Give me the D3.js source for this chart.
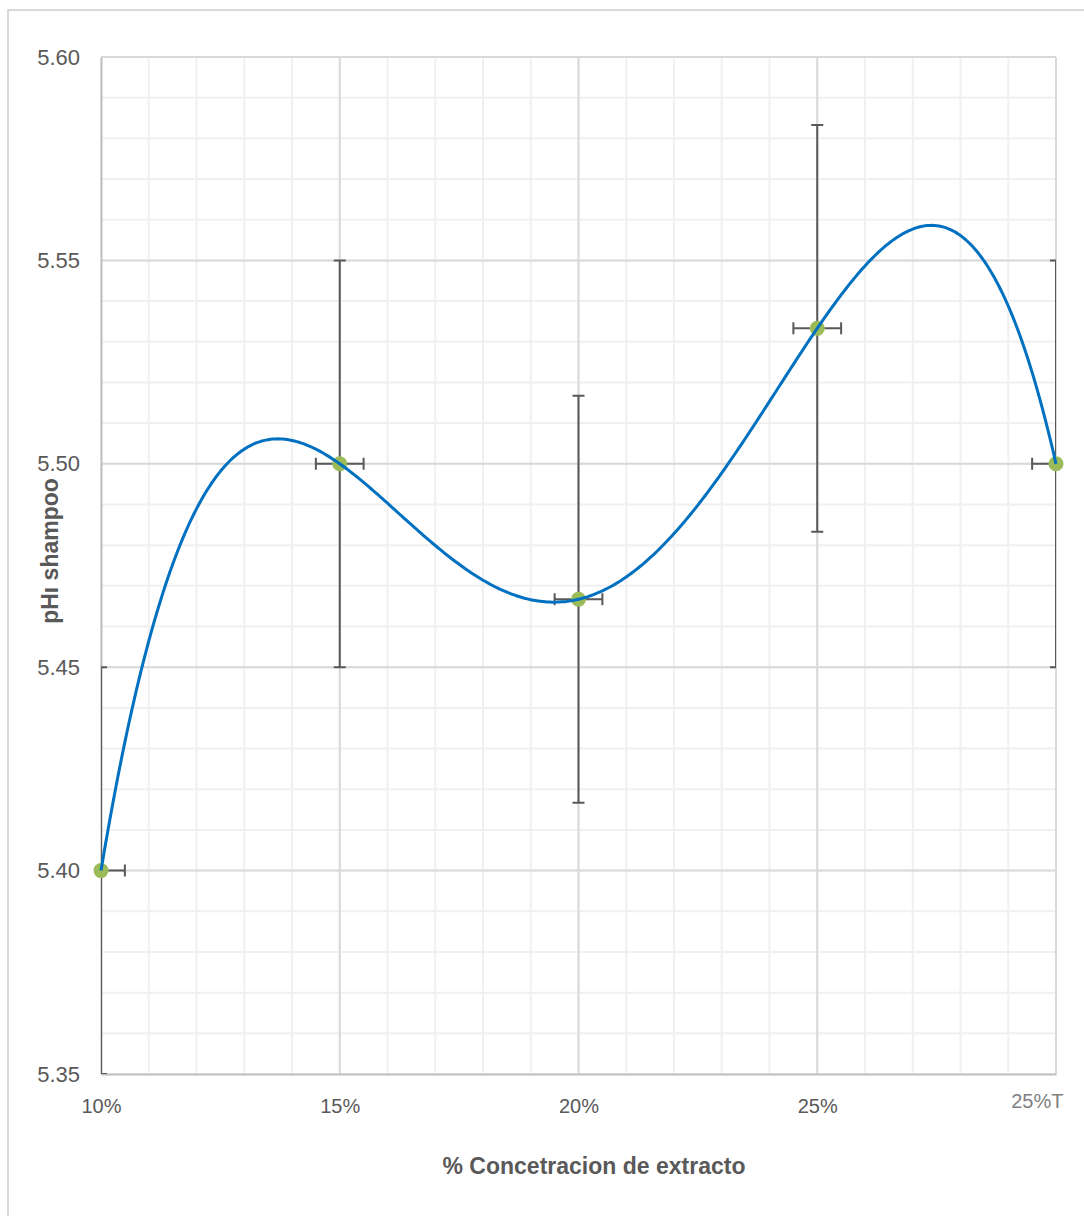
<!DOCTYPE html>
<html>
<head>
<meta charset="utf-8">
<script src="https://cdn.jsdelivr.net/npm/d3@7"></script>
<style>
  body { margin: 0; background: #fff; }
  svg { display: block; font-family: "Liberation Sans", Arial, sans-serif; }
</style>
</head>
<body>
<svg id="chart" width="1084" height="1216"></svg>
<script>
// data
const categories = ["10%", "15%", "20%", "25%", "25%T"];
const phValues = [5.40, 5.50, 5.4667, 5.5333, 5.50];
const phErrors = [0.05, 0.05, 0.05, 0.05, 0.05];
const xError = 0.1;
const yTicks = [5.35, 5.40, 5.45, 5.50, 5.55, 5.60];

const margin = {left: 101, right: 28, top: 57, bottom: 142};
const W = 1084, H = 1216;

const svg = d3.select("#chart");

// chart area border
svg.append("rect")
    .attr("x", 8).attr("y", 10)
    .attr("width", W).attr("height", H)
    .attr("fill", "#fff")
    .attr("stroke", "#d9d9d9")
    .attr("stroke-width", 2);

const x = d3.scaleLinear()
    .domain([1, categories.length])
    .range([margin.left, W - margin.right]);

const y = d3.scaleLinear()
    .domain([5.35, 5.60])
    .range([H - margin.bottom, margin.top]);

const g = svg.append("g");

svg.append("defs").append("clipPath").attr("id", "plot")
  .append("rect")
    .attr("x", x.range()[0]).attr("y", y.range()[1])
    .attr("width", x.range()[1] - x.range()[0])
    .attr("height", y.range()[0] - y.range()[1]);

// minor grid
const minorX = d3.range(1, categories.length + 0.001, 0.2);
const minorY = d3.range(5.35, 5.601, 0.01);
g.append("g").selectAll("line").data(minorX).join("line")
    .attr("x1", d => x(d)).attr("x2", d => x(d))
    .attr("y1", y.range()[0]).attr("y2", y.range()[1])
    .attr("stroke", "#f0f0f0").attr("stroke-width", 2);
g.append("g").selectAll("line").data(minorY).join("line")
    .attr("x1", x.range()[0]).attr("x2", x.range()[1])
    .attr("y1", d => y(d)).attr("y2", d => y(d))
    .attr("stroke", "#f0f0f0").attr("stroke-width", 2);

// major grid
g.append("g").selectAll("line").data(d3.range(2, categories.length + 1)).join("line")
    .attr("x1", d => x(d)).attr("x2", d => x(d))
    .attr("y1", y.range()[0]).attr("y2", y.range()[1])
    .attr("stroke", "#d9d9d9").attr("stroke-width", 2);
g.append("g").selectAll("line").data(yTicks.slice(1)).join("line")
    .attr("x1", x.range()[0]).attr("x2", x.range()[1])
    .attr("y1", d => y(d)).attr("y2", d => y(d))
    .attr("stroke", "#d9d9d9").attr("stroke-width", 2);

// axes
const yAxis = g.append("g")
    .attr("transform", `translate(${x.range()[0]},0)`)
    .call(d3.axisLeft(y).tickValues(yTicks).tickFormat(d3.format(".2f")).tickSize(0).tickPadding(21));
const xAxis = g.append("g")
    .attr("transform", `translate(0,${y.range()[0]})`)
    .call(d3.axisBottom(x).tickValues(d3.range(1, categories.length + 1))
      .tickFormat(d => categories[d - 1]).tickSize(0).tickPadding(25));

[yAxis, xAxis].forEach(a => {
  a.select(".domain").attr("stroke", "#bfbfbf").attr("stroke-width", 2);
  a.selectAll("text").attr("fill", "#595959");
});
yAxis.selectAll("text").style("font-size", "22px");
xAxis.selectAll("text").style("font-size", "20px");
xAxis.selectAll(".tick text")
    .filter((d, i) => i === categories.length - 1)
    .attr("text-anchor", "end")
    .attr("dx", 7)
    .attr("dy", "0.45em")
    .attr("fill", "#808080");

// error bars
const eb = g.append("g")
    .attr("clip-path", "url(#plot)")
    .attr("stroke", "#595959")
    .attr("stroke-width", 2)
    .attr("fill", "none");
const cap = 6;
phValues.forEach((v, i) => {
  const cx = x(i + 1), cy = y(v);
  const y0 = y(v - phErrors[i]), y1 = y(v + phErrors[i]);
  const x0 = x(i + 1 - xError), x1 = x(i + 1 + xError);
  eb.append("path").attr("d",
    `M${cx},${y0}V${y1}M${cx - cap},${y0}H${cx + cap}M${cx - cap},${y1}H${cx + cap}` +
    `M${x0},${cy}H${x1}M${x0},${cy - cap}V${cy + cap}M${x1},${cy - cap}V${cy + cap}`);
});

// markers
g.append("g").selectAll("circle").data(phValues).join("circle")
    .attr("cx", (d, i) => x(i + 1))
    .attr("cy", d => y(d))
    .attr("r", 7.5)
    .attr("fill", "#9bbb59");

// polynomial trendline (order 4) fitted to the points
function polyfit(xs, ys, order) {
  const n = order + 1;
  const A = d3.range(n).map(() => new Array(n + 1).fill(0));
  for (let r = 0; r < n; r++) {
    for (let c = 0; c < n; c++) A[r][c] = d3.sum(xs, xv => Math.pow(xv, r + c));
    A[r][n] = d3.sum(xs, (xv, k) => ys[k] * Math.pow(xv, r));
  }
  for (let p = 0; p < n; p++) {
    let best = p;
    for (let r = p + 1; r < n; r++) if (Math.abs(A[r][p]) > Math.abs(A[best][p])) best = r;
    [A[p], A[best]] = [A[best], A[p]];
    for (let r = 0; r < n; r++) {
      if (r === p) continue;
      const f = A[r][p] / A[p][p];
      for (let c = p; c <= n; c++) A[r][c] -= f * A[p][c];
    }
  }
  return d3.range(n).map(i => A[i][n] / A[i][i]);
}
const xs = phValues.map((d, i) => i + 1);
const coef = polyfit(xs, phValues, 4);
const poly = t => coef.reduce((s, c, k) => s + c * Math.pow(t, k), 0);
const samples = x.ticks(300).concat([categories.length]);

g.append("path")
    .datum(samples)
    .attr("fill", "none")
    .attr("stroke", "#0070c0")
    .attr("stroke-width", 3)
    .attr("stroke-linejoin", "round")
    .attr("d", d3.line().x(d => x(d)).y(d => y(poly(d))));

// axis titles
svg.append("text")
    .attr("x", 594).attr("y", 1174)
    .attr("text-anchor", "middle")
    .attr("fill", "#595959")
    .style("font-size", "23px").style("font-weight", "bold")
    .text("% Concetracion de extracto");

svg.append("text")
    .attr("transform", "translate(58,551) rotate(-90)")
    .attr("text-anchor", "middle")
    .attr("fill", "#595959")
    .style("font-size", "23px").style("font-weight", "bold")
    .text("pHı shampoo");
</script>
</body>
</html>
